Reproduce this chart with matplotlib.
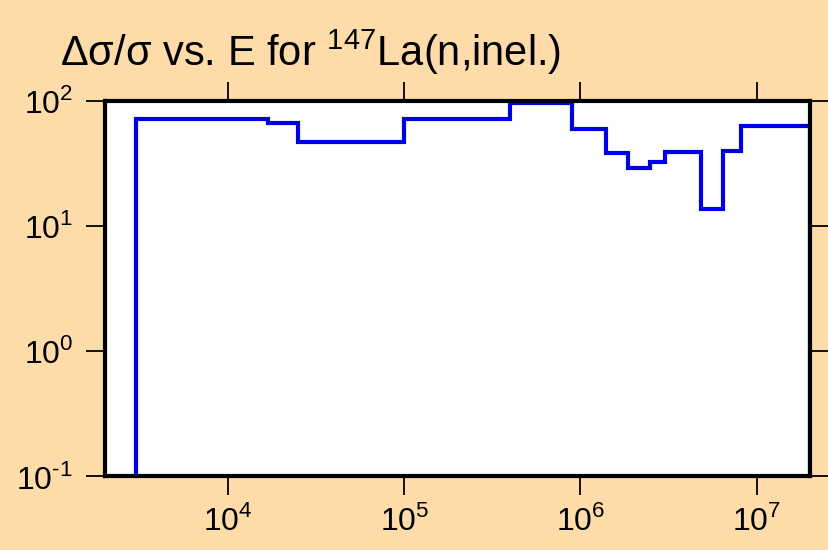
import numpy as np
import matplotlib
matplotlib.use("Agg")
import matplotlib.pyplot as plt
from matplotlib.ticker import FuncFormatter, NullLocator

# Bornes des groupes en énergie (eV) et incertitudes relatives (%)
bornes_E = [3.0e3, 1.68e4, 2.48e4, 1.0e5, 4.0e5, 9.0e5, 1.39e6, 1.85e6,
            2.47e6, 3.0e6, 4.82e6, 6.45e6, 8.2e6, 2.0e7]
incertitudes = [72, 66, 47, 72, 96.5, 60, 38.2, 29.1, 32.3, 39.3, 13.7, 39.8, 62.8]

plt.rcParams['font.family'] = ['Liberation Sans', 'DejaVu Sans']
plt.rcParams['mathtext.fontset'] = 'custom'
plt.rcParams['mathtext.rm'] = 'Liberation Sans'

fond = '#fddcaa'
fig = plt.figure(figsize=(8.29, 5.5), dpi=100, facecolor=fond)
ax = fig.add_axes([0.1267, 0.1345, 0.85, 0.682])

# Histogramme en escalier, fermé jusqu'en bas
x = np.array(bornes_E)
y = np.array(incertitudes + [incertitudes[-1]])
xs = np.concatenate(([x[0]], x, [x[-1]]))
ys = np.concatenate(([1e-3], y[:-1], [y[-2], 1e-3]))
ax.step(xs[:-1], ys[:-1], where='post', color='#0000e6', lw=3, solid_joinstyle='miter')
ax.plot([x[-1], x[-1]], [incertitudes[-1], 1e-3], color='#0000e6', lw=3)

ax.set_xscale('log')
ax.set_yscale('log')
ax.set_xlim(2e3, 2e7)
ax.set_ylim(0.1, 100)
ax.xaxis.set_minor_locator(NullLocator())
ax.yaxis.set_minor_locator(NullLocator())
ax.set_xticks([1e4, 1e5, 1e6, 1e7])
ax.set_yticks([0.1, 1, 10, 100])


def puissance(v, pos):
    n = int(round(np.log10(v)))
    return "10$^{\\mathdefault{%s}}$" % str(n).replace('-', '\u2010')


ax.xaxis.set_major_formatter(FuncFormatter(puissance))
ax.yaxis.set_major_formatter(FuncFormatter(puissance))

for cote in ax.spines.values():
    cote.set_linewidth(3)
ax.tick_params(which='major', direction='out', length=14, width=1.3,
               top=True, right=True, labelsize=23, pad=7, color='black')
ax.tick_params(axis='y', pad=9)

fig.text(0.072, 0.88, "Δσ/σ vs. E for $^{\\mathdefault{147}}$La(n,inel.)",
         fontsize=30, ha='left', va='baseline')

fig.savefig('out.png', dpi=100, facecolor=fond)
